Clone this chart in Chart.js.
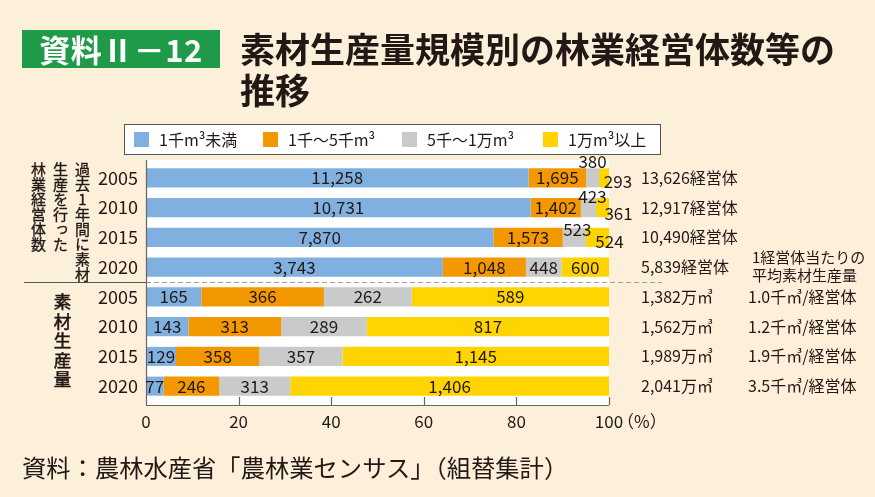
<!DOCTYPE html>
<html><head><meta charset="utf-8">
<script src="https://cdn.jsdelivr.net/npm/chart.js@4/dist/chart.umd.min.js"></script>
<style>
html,body{margin:0;padding:0;background:#FDF0DA;}
#wrap{position:relative;width:875px;height:497px;overflow:hidden;font-family:"Noto Sans CJK JP","Noto Sans",sans-serif;color:#231815;}
canvas{position:absolute;left:0;top:0;}
.badge{position:absolute;left:22px;top:30px;width:198px;height:38px;background:#1F9A48;color:#fff;font-weight:bold;font-size:31px;line-height:38px;text-align:center;letter-spacing:0.5px;}
.title{position:absolute;left:240px;top:27px;font-weight:bold;font-size:35px;line-height:41px;white-space:nowrap;}
.vt{position:absolute;writing-mode:vertical-rl;text-orientation:upright;white-space:nowrap;}
.vt1{right:782px;top:162px;font-size:15px;line-height:22px;-webkit-text-stroke:0.35px #231815;}
.vt2{left:52px;top:293px;font-size:17.5px;line-height:20px;letter-spacing:2px;-webkit-text-stroke:0.6px #231815;}
.note{position:absolute;left:22px;top:453px;font-size:24.3px;line-height:28px;white-space:nowrap;}
</style></head>
<body>
<div id="wrap">
<canvas id="c" width="875" height="497"></canvas>
<div class="badge">資料Ⅱ－12</div>
<div class="title">素材生産量規模別の林業経営体数等の<br>推移</div>
<div class="vt vt1">過去1年間に素材<br>生産を行った<br>林業経営体数</div>
<div class="vt vt2">素材生産量</div>
<div class="note">資料：農林水産省「農林業センサス」（組替集計）</div>
</div>
<script>
// ---- data ----
const years = ['2005', '2010', '2015', '2020', '2005', '2010', '2015', '2020'];
const seriesNames = ['1千m³未満', '1千～5千m³', '5千～1万m³', '1万m³以上'];
// rows 0-3: number of forestry management entities; rows 4-7: production volume (万m³)
const under1k   = [11258, 10731, 7870, 3743, 165, 143, 129, 77];
const from1kTo5k = [1695, 1402, 1573, 1048, 366, 313, 358, 246];
const from5kTo10k = [380, 423, 523, 448, 262, 289, 357, 313];
const over10k   = [293, 361, 524, 600, 589, 817, 1145, 1406];
const totalEntities = [13626, 12917, 10490, 5839];
const totalVolume = [1382, 1562, 1989, 2041];
const avgPerEntity = [1.0, 1.2, 1.9, 3.5];
const xTicks = [0, 20, 40, 60, 80, 100];

// ---- presentation ----
const colors = ['#80B0E0', '#F39800', '#C9CACA', '#FFD400'];
const ink = '#231815';
const FONT = '"Noto Sans CJK JP", "Noto Sans", sans-serif';
const raw = [under1k, from1kTo5k, from5kTo10k, over10k];
const rowSums = years.map((_, j) => raw.reduce((s, arr) => s + arr[j], 0));
const pct = raw.map(arr => arr.map((v, j) => v / rowSums[j] * 100));
const fmt = v => String(v).replace(/\B(?=(\d{3})+(?!\d))/g, ',');
// label nudges for small segments (row-dataset)
const nudges = {'0-2': [0, -16], '0-3': [14, 4], '1-2': [4, -11], '1-3': [16, 6], '2-2': [3, -8], '2-3': [12, 4]};

const decor = {
  id: 'decor',
  beforeDraw(chart) {
    const {ctx, chartArea: a} = chart;
    ctx.save();
    ctx.fillStyle = '#ffffff';
    ctx.fillRect(a.left, a.top - 3, a.right - a.left, a.bottom - a.top + 7);
    ctx.restore();
  },
  afterDatasetsDraw(chart) {
    const {ctx, chartArea: a, scales: {x, y}} = chart;
    ctx.save();
    const axTop = a.top - 3, axBot = a.bottom + 4;
    // separator
    const sepY = Math.round((y.getPixelForValue(3) + y.getPixelForValue(4)) / 2) + 0.5;
    ctx.strokeStyle = '#A0A0A0'; ctx.lineWidth = 1; ctx.setLineDash([5, 3]);
    ctx.beginPath(); ctx.moveTo(a.left, sepY); ctx.lineTo(662, sepY); ctx.stroke();
    ctx.setLineDash([]);
    ctx.strokeStyle = '#555'; 
    ctx.beginPath(); ctx.moveTo(24, sepY); ctx.lineTo(a.left, sepY); ctx.stroke();
    // axes
    ctx.strokeStyle = '#666'; ctx.lineWidth = 1.2;
    ctx.beginPath();
    ctx.moveTo(a.left + 0.5, axTop); ctx.lineTo(a.left + 0.5, axBot + 0.5);
    ctx.lineTo(a.right, axBot + 0.5);
    ctx.stroke();
    ctx.beginPath();
    xTicks.forEach(t => { const px = Math.round(x.getPixelForValue(t)) + 0.5; if (t > 0) { ctx.moveTo(px, axBot); ctx.lineTo(px, axBot - 8); } });
    ctx.stroke();
    // segment labels
    ctx.fillStyle = ink; ctx.font = '17px ' + FONT; ctx.textAlign = 'center'; ctx.textBaseline = 'middle';
    chart.data.datasets.forEach((ds, i) => {
      chart.getDatasetMeta(i).data.forEach((bar, j) => {
        const n = nudges[j + '-' + i] || [0, 0];
        ctx.fillText(fmt(raw[i][j]), (bar.x + bar.base) / 2 + n[0], bar.y + n[1]);
      });
    });
    // right side texts
    ctx.textAlign = 'left'; ctx.font = '16px ' + FONT;
    for (let j = 0; j < 4; j++) ctx.fillText(fmt(totalEntities[j]) + '経営体', 641, y.getPixelForValue(j));
    for (let j = 0; j < 4; j++) {
      const py = y.getPixelForValue(j + 4);
      ctx.fillText(fmt(totalVolume[j]) + '万㎥', 641, py);
      ctx.fillText(avgPerEntity[j].toFixed(1) + '千㎥/経営体', 748, py);
    }
    ctx.font = '15px ' + FONT;
    const hy = y.getPixelForValue(3);
    ctx.fillText('1経営体当たりの', 752, hy - 10);
    ctx.fillText('平均素材生産量', 752, hy + 8);
    // unit
    ctx.font = '17px ' + FONT;
    ctx.fillText('（%）', x.getPixelForValue(100) + 8, a.bottom + 21);
    // legend
    ctx.fillStyle = '#fff'; ctx.fillRect(124, 124, 536, 30);
    ctx.strokeStyle = '#555'; ctx.lineWidth = 1; ctx.strokeRect(124.5, 124.5, 536, 30);
    const lx = [134, 263, 402, 543];
    ctx.font = '16px ' + FONT;
    chart.data.datasets.forEach((ds, i) => {
      ctx.fillStyle = ds.backgroundColor; ctx.fillRect(lx[i], 132, 15, 15);
      ctx.fillStyle = ink; ctx.fillText(ds.label, lx[i] + 25, 140);
    });
    ctx.restore();
  }
};

new Chart(document.getElementById('c'), {
  type: 'bar',
  data: {
    labels: years,
    datasets: seriesNames.map((name, i) => ({
      label: name, data: pct[i], backgroundColor: colors[i], borderWidth: 0,
      categoryPercentage: 1, barPercentage: 0.64
    }))
  },
  options: {
    indexAxis: 'y', responsive: false, animation: false, devicePixelRatio: 1,
    layout: {padding: {left: 0, top: 163, right: 266, bottom: 66}},
    scales: {
      x: {
        stacked: true, min: 0, max: 100,
        afterBuildTicks: s => { s.ticks = xTicks.map(v => ({value: v})); },
        ticks: {color: ink, font: {family: FONT, size: 17}, padding: 10, maxRotation: 0},
        grid: {display: false, drawTicks: false}, border: {display: false},
        afterFit: s => { s.height = 30; }
      },
      y: {
        stacked: true,
        ticks: {color: ink, font: {family: FONT, size: 18}, padding: 8, autoSkip: false},
        grid: {display: false, drawTicks: false}, border: {display: false},
        afterFit: s => { s.width = 146; }
      }
    },
    plugins: {legend: {display: false}, tooltip: {enabled: false}}
  },
  plugins: [decor]
});
</script>
</body></html>
